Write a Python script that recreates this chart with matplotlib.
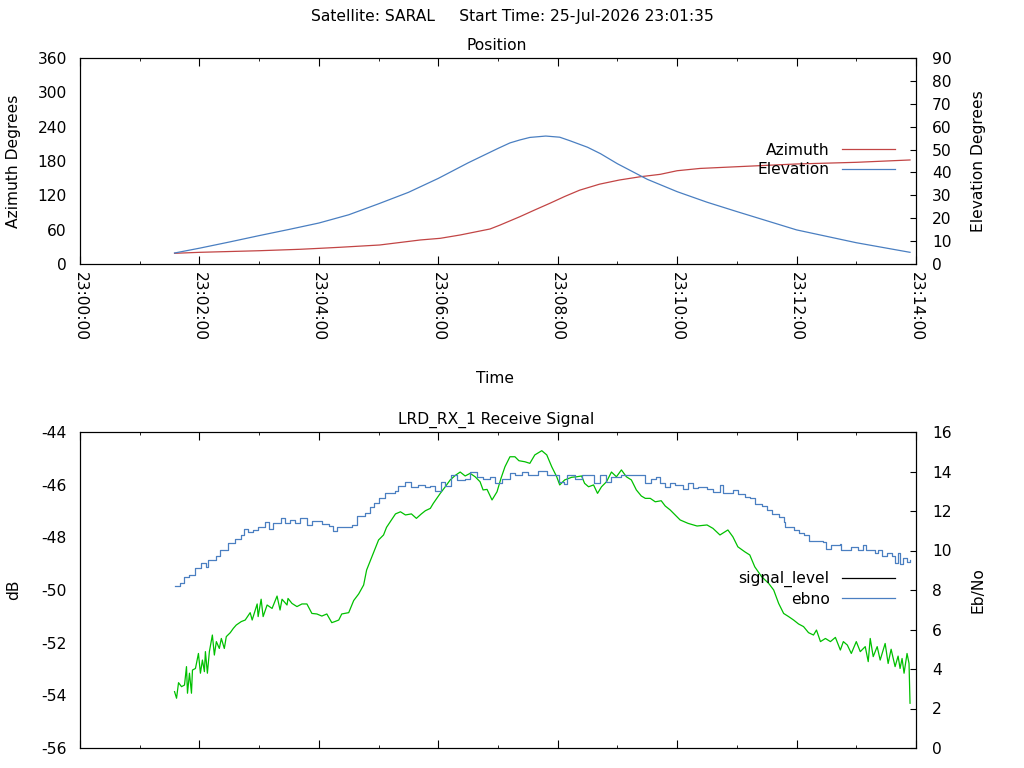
import datetime as dt
import matplotlib
matplotlib.use("Agg")
import matplotlib.pyplot as plt
import matplotlib.dates as mdates
from matplotlib.lines import Line2D

# === Data (seconds after 23:00:00) ===

BASE = dt.datetime(2026, 7, 25, 23, 0, 0)

pos_t = [95, 120, 150, 180, 210, 240, 270, 300, 330, 360, 390, 420, 432,
         442, 452, 468, 482, 492, 510, 523, 540, 570, 600, 630, 660, 720,
         780, 834]
elevation = [4.8, 6.9, 9.6, 12.4, 15.1, 17.9, 21.5, 26.3, 31.3, 37.4, 44.2,
             50.5, 52.9, 54.2, 55.3, 55.9, 55.4, 53.9, 51.0, 48.2, 43.8,
             37.0, 31.6, 27.0, 22.9, 14.9, 9.3, 5.1]

az_t = [95, 120, 180, 221, 241, 261, 301, 342, 362, 382, 412, 422, 442,
        457, 472, 487, 502, 522, 542, 563, 583, 600, 623, 660, 720, 780,
        834]
azimuth = [18.7, 20.4, 23.2, 25.7, 27.4, 29.2, 33.2, 42.0, 44.9, 50.7, 61.2,
           68.0, 82.7, 94.5, 106.0, 118.0, 129.0, 139.5, 146.8, 152.5,
           156.7, 163.0, 167.0, 170.0, 174.8, 177.7, 181.8]

ebno_t = [95, 100, 104, 110, 116, 122, 127, 129, 137, 141, 149, 156, 162,
          165, 169, 174, 179, 186, 190, 194, 202, 206, 211, 216, 221, 228,
          233, 243, 250, 254, 258, 266, 273, 278, 286, 291, 295, 300, 306,
          317, 320, 327, 333, 340, 347, 352, 357, 363, 367, 373, 379, 387,
          392, 399, 405, 412, 417, 424, 432, 437, 444, 450, 460, 469, 477,
          481, 486, 489, 497, 504, 516, 522, 529, 534, 544, 558, 568, 574,
          579, 583, 588, 593, 598, 606, 611, 616, 621, 630, 636, 643, 646,
          656, 661, 668, 673, 678, 685, 690, 695, 702, 707, 708, 717, 722,
          727, 732, 747, 750, 755, 764, 765, 775, 782, 787, 790, 799, 802,
          806, 811, 816, 819, 822, 824, 827, 831, 834]
ebno = [8.20, 8.37, 8.67, 8.78, 9.10, 9.38, 9.15, 9.52, 9.72, 10.03, 10.36,
        10.56, 10.78, 11.07, 10.94, 11.04, 11.17, 11.46, 11.11, 11.38, 11.65,
        11.41, 11.54, 11.41, 11.65, 11.31, 11.48, 11.34, 11.24, 11.00, 11.17,
        11.17, 11.29, 11.75, 11.88, 12.22, 12.42, 12.64, 12.89, 13.01, 13.27,
        13.48, 13.20, 13.32, 13.20, 13.27, 13.03, 13.48, 13.27, 13.81, 13.57,
        13.64, 13.99, 13.71, 13.61, 13.71, 13.43, 13.61, 13.91, 13.84, 13.97,
        13.84, 14.04, 13.84, 13.81, 13.48, 13.37, 13.81, 13.64, 13.81, 13.40,
        13.82, 13.48, 13.71, 13.81, 13.81, 13.43, 13.64, 13.71, 13.40, 13.23,
        13.40, 13.30, 13.10, 13.40, 13.15, 13.23, 13.10, 12.96, 13.30, 12.89,
        13.06, 12.86, 12.69, 12.64, 12.35, 12.25, 12.05, 11.85, 11.68, 11.44,
        11.21, 11.04, 10.87, 10.78, 10.50, 10.45, 10.09, 10.28, 10.33, 10.03,
        10.16, 10.03, 10.26, 10.03, 9.86, 10.03, 9.72, 9.89, 9.72, 9.35, 9.89,
        9.32, 9.60, 9.43, 9.52]

sig_t = [95, 97, 99, 102, 105, 107, 108, 110, 112, 113, 116, 119, 121, 123,
         125, 126, 128, 130, 133, 135, 137, 140, 142, 145, 147, 151, 154, 157,
         162, 166, 171, 173, 178, 179, 182, 184, 188, 193, 198, 201, 203, 208,
         209, 213, 218, 223, 228, 233, 238, 243, 248, 253, 256, 260, 263, 270,
         275, 280, 285, 288, 292, 296, 300, 305, 308, 313, 317, 322, 327, 333,
         338, 343, 347, 352, 355, 362, 367, 372, 377, 382, 387, 392, 397, 402,
         405, 409, 414, 419, 423, 427, 432, 437, 441, 447, 452, 457, 464, 469,
         474, 479, 482, 487, 494, 499, 504, 507, 511, 516, 520, 524, 529, 534,
         539, 544, 549, 554, 559, 564, 568, 573, 578, 584, 588, 593, 598, 603,
         611, 620, 630, 636, 643, 648, 651, 656, 661, 668, 673, 678, 685, 692,
         697, 702, 707, 712, 717, 722, 727, 732, 737, 740, 744, 749, 754, 759,
         764, 767, 771, 775, 780, 784, 789, 792, 794, 797, 801, 804, 809, 812,
         815, 819, 822, 824, 826, 828, 831, 833, 834]
signal_level = [-53.86, -54.11, -53.52, -53.67, -53.61, -52.91, -53.92,
                -53.16, -53.92, -53.04, -52.98, -52.41, -53.16, -52.66,
                -53.10, -52.34, -53.16, -52.34, -51.71, -52.47, -51.96,
                -52.22, -51.84, -52.22, -51.77, -51.62, -51.46, -51.33,
                -51.20, -51.14, -50.86, -51.14, -50.53, -51.01, -50.35,
                -51.01, -50.57, -50.70, -50.23, -50.76, -50.35, -50.57,
                -50.32, -50.51, -50.63, -50.53, -50.53, -50.89, -50.91,
                -50.99, -50.91, -51.24, -51.20, -51.14, -50.91, -50.86,
                -50.40, -50.15, -49.81, -49.24, -48.86, -48.48, -48.10,
                -47.91, -47.62, -47.34, -47.11, -47.03, -47.15, -47.11,
                -47.28, -47.11, -46.99, -46.90, -46.71, -46.33, -46.08,
                -45.82, -45.65, -45.52, -45.67, -45.57, -45.70, -45.89,
                -46.20, -46.18, -46.58, -46.27, -45.76, -45.32, -44.94,
                -44.94, -45.09, -45.13, -45.19, -44.87, -44.71, -44.87,
                -45.32, -45.70, -46.01, -45.82, -45.72, -45.70, -45.67,
                -45.95, -46.08, -46.01, -46.33, -46.08, -45.89, -45.52,
                -45.70, -45.44, -45.70, -45.82, -46.20, -46.43, -46.52,
                -46.52, -46.65, -46.61, -46.81, -46.96, -47.15, -47.34,
                -47.47, -47.57, -47.53, -47.66, -47.91, -47.79, -47.72,
                -47.98, -48.36, -48.55, -48.67, -49.12, -49.50, -49.75,
                -50.00, -50.51, -50.89, -51.01, -51.14, -51.29, -51.39,
                -51.62, -51.71, -51.52, -51.96, -51.84, -51.96, -51.80,
                -52.28, -51.96, -52.09, -52.41, -51.96, -52.34, -52.15,
                -52.72, -51.84, -52.53, -52.15, -52.66, -52.03, -52.79,
                -52.25, -52.91, -52.51, -52.98, -52.60, -53.16, -52.41,
                -52.79, -54.30]

# === Style ===

FS = 11.2
AZ_COLOR = "#c24545"
EL_COLOR = "#4a7fc1"
SIG_COLOR = "#00c000"
plt.rcParams["font.family"] = ["DejaVu Sans"]
plt.rcParams["font.size"] = FS
plt.rcParams["axes.unicode_minus"] = False


def to_time(secs):
    return [BASE + dt.timedelta(seconds=s) for s in secs]


def style_time_axis(ax, show_labels):
    ax.set_xlim(BASE, BASE + dt.timedelta(minutes=14))
    ax.xaxis.set_major_locator(mdates.MinuteLocator(byminute=range(0, 60, 2)))
    ax.xaxis.set_minor_locator(mdates.MinuteLocator())
    ax.xaxis.set_major_formatter(mdates.DateFormatter("%H:%M:%S"))
    ax.tick_params(axis="x", which="major", direction="in", length=5.5,
                   top=True, labelbottom=show_labels, pad=5.5)
    ax.tick_params(axis="x", which="minor", direction="in", length=2.5,
                   top=True)
    for lab in ax.get_xticklabels():
        lab.set_rotation(270)
        lab.set_ha("center")
        lab.set_va("top")
    ax.tick_params(axis="y", which="both", length=0, pad=9.5)


def style_right_axis(ax):
    ax.tick_params(axis="y", direction="in", length=4.5, pad=11.5)
    ax.tick_params(axis="x", which="both", length=0)


fig = plt.figure(figsize=(10.24, 7.68), dpi=100)

# === Position plot ===

ax1 = fig.add_axes([80 / 1024, 1 - 264 / 768, 836 / 1024, 206 / 768])
ax1.plot(to_time(az_t), azimuth, color=AZ_COLOR, lw=0.9)
ax1.set_ylim(0, 360)
ax1.set_yticks(range(0, 361, 60))
style_time_axis(ax1, True)

ax1r = ax1.twinx()
ax1r.plot(to_time(pos_t), elevation, color=EL_COLOR, lw=0.9)
ax1r.set_ylim(0, 90)
ax1r.set_yticks(range(0, 91, 10))
style_right_axis(ax1r)

pos_handles = [Line2D([], [], color=AZ_COLOR, lw=0.9),
               Line2D([], [], color=EL_COLOR, lw=0.9)]
fig.legend(pos_handles, ["Azimuth", "Elevation"], loc="center right",
           bbox_to_anchor=(895 / 1024, 1 - 160 / 768), frameon=False,
           markerfirst=False, handlelength=3.4, handletextpad=0.8,
           labelspacing=0.3, borderpad=0, borderaxespad=0, fontsize=FS)

# === Receive signal plot ===

ax2 = fig.add_axes([80 / 1024, 1 - 748 / 768, 836 / 1024, 316 / 768])
ax2.plot(to_time(sig_t), signal_level, color=SIG_COLOR, lw=0.9)
ax2.set_ylim(-56, -44)
ax2.set_yticks(range(-56, -43, 2))
style_time_axis(ax2, False)

ax2r = ax2.twinx()
ax2r.plot(to_time(ebno_t), ebno, color=EL_COLOR, lw=0.9,
          drawstyle="steps-post")
ax2r.set_ylim(0, 16)
ax2r.set_yticks(range(0, 17, 2))
style_right_axis(ax2r)

sig_handles = [Line2D([], [], color="black", lw=0.9),
               Line2D([], [], color=EL_COLOR, lw=0.9)]
fig.legend(sig_handles, ["signal_level", "ebno"], loc="center right",
           bbox_to_anchor=(895 / 1024, 1 - 589 / 768), frameon=False,
           markerfirst=False, handlelength=3.4, handletextpad=0.8,
           labelspacing=0.3, borderpad=0, borderaxespad=0, fontsize=FS)

# === Text ===

fig.text(512 / 1024, 1 - 17 / 768,
         "Satellite: SARAL     Start Time: 25-Jul-2026 23:01:35",
         ha="center", va="center")
fig.text(497 / 1024, 1 - 46 / 768, "Position", ha="center", va="center")
fig.text(496 / 1024, 1 - 420 / 768, "LRD_RX_1 Receive Signal",
         ha="center", va="center")
fig.text(495 / 1024, 1 - 379 / 768, "Time", ha="center", va="center")
fig.text(14 / 1024, 1 - 161 / 768, "Azimuth Degrees", rotation=90,
         ha="center", va="center")
fig.text(978 / 1024, 1 - 161 / 768, "Elevation Degrees", rotation=90,
         ha="center", va="center")
fig.text(14 / 1024, 1 - 590 / 768, "dB", rotation=90,
         ha="center", va="center")
fig.text(978 / 1024, 1 - 590 / 768, "Eb/No", rotation=90,
         ha="center", va="center")

fig.savefig("out.png", dpi=100)
